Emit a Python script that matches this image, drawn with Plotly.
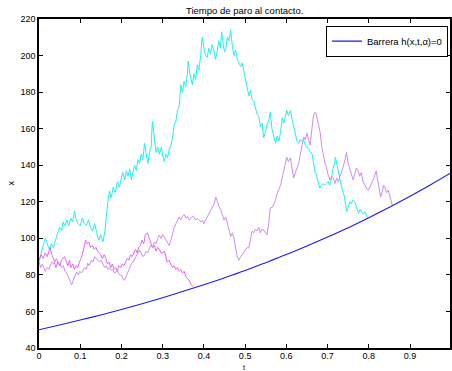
import plotly.graph_objects as go

# ---- data ----
t_cyan = [0.000,0.005,0.010,0.015,0.020,0.025,0.030,0.035,0.040,0.045,0.050,0.055,0.058,0.063,0.068,0.072,0.077,0.082,0.086,0.090,
          0.095,0.100,0.105,0.110,0.115,0.120,0.125,0.130,0.135,0.140,0.145,0.150,0.155,0.160,0.163,0.167,0.171,0.175,0.180,0.185,
          0.190,0.195,0.200,0.203,0.208,0.212,0.216,0.220,0.224,0.228,0.232,0.236,0.240,0.244,0.248,0.252,0.256,0.260,0.264,0.268,
          0.272,0.275,0.279,0.284,0.288,0.292,0.297,0.300,0.304,0.308,0.312,0.316,0.320,0.324,0.328,0.332,0.336,0.340,0.344,0.348,
          0.352,0.356,0.360,0.362,0.366,0.369,0.372,0.376,0.380,0.384,0.388,0.392,0.396,0.400,0.404,0.408,0.412,0.416,0.420,0.424,
          0.428,0.432,0.436,0.440,0.443,0.447,0.450,0.453,0.457,0.461,0.465,0.469,0.473,0.477,0.481,0.485,0.489,0.493,0.497,0.501,
          0.505,0.509,0.513,0.517,0.521,0.525,0.529,0.533,0.537,0.541,0.545,0.549,0.553,0.557,0.561,0.565,0.570,0.574,0.578,0.582,
          0.586,0.590,0.594,0.598,0.601,0.605,0.610,0.614,0.618,0.622,0.626,0.630,0.634,0.638,0.642,0.646,0.650,0.654,0.658,0.662,
          0.666,0.670,0.673,0.677,0.681,0.685,0.689,0.693,0.697,0.701,0.705,0.709,0.713,0.717,0.719,0.723,0.726,0.730,0.734,0.738,
          0.741,0.744,0.746,0.750,0.754,0.758,0.762,0.766,0.770,0.775,0.779,0.783,0.787,0.791,0.794,0.797]
x_cyan = [87,92,96,100,97,94,97,95,99,102,106,104,109,107,110,107,111,109,115,110,
          108,107,111,108,107,110,106,104,108,103,99,102,98,104,112,120,126,122,128,125,
          131,128,133,136,132,137,134,138,132,136,140,137,143,141,146,143,152,146,141,147,
          150,164,155,147,150,146,150,145,142,146,144,149,151,155,162,164,170,172,184,180,
          186,183,190,197,190,186,184,190,187,195,192,200,210,204,200,199,204,201,206,203,
          198,202,208,204,213,206,202,204,210,208,214,205,200,203,198,196,194,196,191,187,
          182,178,181,176,175,171,168,167,161,163,155,158,162,164,169,160,156,152,156,153,
          158,166,163,168,170,167,170,165,161,157,153,152,154,153,154,151,150,149,147,146.6,
          141,136,134.6,130,127.5,129,130,129,130,131,129,132,138,141,144.5,140,135.7,133,128,125,
          122.6,118,114.4,117,120,119,121,120,117,113.8,116,114,113.5,114.5,112.8,111]

t_mag_a = [0.000,0.005,0.010,0.015,0.020,0.025,0.027,0.031,0.035,0.041,0.045,0.050,0.055,0.062,0.066,0.070,0.074,0.077,0.082,0.086,
           0.090,0.094,0.098,0.102,0.106,0.110,0.113,0.117,0.121,0.125,0.130,0.134,0.138,0.142,0.146,0.150,0.154,0.158,0.162,0.166,
           0.170,0.174,0.178,0.182,0.186,0.190,0.194,0.198,0.202,0.206,0.210,0.214,0.218,0.222,0.226,0.230,0.234,0.238,0.242,0.246,
           0.250,0.254,0.258,0.263,0.267,0.271,0.275,0.280,0.284,0.288,0.292,0.296,0.300,0.304,0.308,0.311,0.315,0.320,0.324,0.328,
           0.332,0.336,0.340,0.344,0.348,0.352,0.356,0.360,0.364,0.368,0.372,0.374]
x_mag_a = [88,91,89,92,90,93,95,91,89,84,87,85,88,90,87,85,88,84,86,83,
           85,84,87,89,92,96,99,97,98,95,96,94,95,93,92,91,89,91,89,86,
           87,84,86,83,84,82,85,84,86,85,87,89,88,91,90,92,94,92,95,96,
           99,97,102,103,100,98,95,96,93,95,94,92,92,93,90,87,88,86,84,85,
           83,84,82,83,81,82,79,78,77,75,74,73.4]

t_mag_b = [0.000,0.004,0.008,0.012,0.015,0.020,0.024,0.027,0.031,0.036,0.042,0.046,0.050,0.055,0.059,0.063,0.067,0.071,0.075,0.079,
           0.083,0.087,0.091,0.095,0.099,0.103,0.107,0.111,0.115,0.118,0.122,0.127,0.131,0.135,0.139,0.143,0.147,0.151,0.155,0.159,
           0.163,0.167,0.171,0.175,0.179,0.183,0.187,0.191,0.195,0.200,0.204,0.207,0.211,0.215,0.220,0.224,0.228,0.232,0.236,0.240,
           0.244,0.248,0.252,0.256,0.260,0.264,0.268,0.272,0.276,0.280,0.284,0.288,0.292,0.296,0.300,0.304,0.308,0.312,0.316,0.320,
           0.324,0.328,0.332,0.336,0.340,0.344,0.348,0.352,0.356,0.360,0.364,0.368,0.372,0.376,0.380,0.384,0.389,0.393,0.397,0.400,
           0.404,0.409,0.413,0.417,0.421,0.425,0.429,0.432,0.436,0.441,0.445,0.449,0.453,0.457,0.461,0.465,0.469,0.473,0.477,0.481,
           0.485,0.489,0.493,0.497,0.501,0.505,0.509,0.513,0.517,0.521,0.525,0.529,0.533,0.537,0.541,0.545,0.549,0.553,0.557,0.561,
           0.566,0.570,0.574,0.578,0.582,0.586,0.589,0.593,0.597,0.601,0.605,0.610,0.614,0.618,0.622,0.626,0.630,0.634,0.638,0.642,
           0.646,0.650,0.654,0.658,0.662,0.666,0.670,0.673,0.677,0.682,0.686,0.690,0.694,0.697,0.701,0.706,0.710,0.714,0.718,0.722,
           0.726,0.730,0.734,0.738,0.742,0.746,0.750,0.755,0.758,0.762,0.766,0.770,0.774,0.778,0.782,0.786,0.791,0.795,0.799,0.803,
           0.807,0.811,0.815,0.818,0.822,0.826,0.829,0.833,0.836,0.839,0.843,0.847,0.851,0.855,0.857]
x_mag_b = [87,84,86,83,82,84,83,85,87,86,89,87,86,84,85,82,81,79,77,74.5,
           77,79,81.6,80,82,81,83,84,83,86.5,85,88,87,90,89,88,87,88,86,84,
           85,83,84,82.7,83,81,81.6,82,80,80,78,77,79,81,84,86,87,89,90,92,
           93.6,92,90,91,93,92,94.7,96,95,98,97,100,101.8,100,102,100.7,99,98,96,99,
           103,106,108,110,111.7,110,112,113,111,112,110,111,112,111.7,110,111,110,109,110,108,
           110,112,113.8,115,117,119,122.6,120,118,115.5,113,110,111.7,108,104.5,101,103,100,94.7,90,
           88,90,91,92.5,93.6,95,94.7,99,104,103,105,104,106,103,105,104.5,103,101.8,108,116.6,
           117,119,121,124.8,127,129,132,136,140,144.5,142,144,138,133,136,139,141,146,150,155.4,
           154,157.6,154,151,160,167.5,169,167.5,163,158,150,144.5,141,139,135,132,134,133,130,133,
           131,134,136,139,143,147,141,137,134,132,135,138.5,137,134,136,131,129,127,126.4,128,
           130,132,135,137,131,126,122.6,126,129,128,125,126.4,123,120,118]

t_barrier = [0.00,0.05,0.10,0.15,0.20,0.25,0.30,0.35,0.40,0.45,0.50,0.55,0.60,0.65,0.70,0.75,0.80,0.85,0.90,0.95,1.00]
x_barrier = [50.0,52.6,55.3,58.1,61.1,64.2,67.5,71.0,74.6,78.4,82.4,86.7,91.1,95.8,100.7,105.8,111.3,117.0,123.0,129.3,135.9]

x_ticks = [0, 0.1, 0.2, 0.3, 0.4, 0.5, 0.6, 0.7, 0.8, 0.9]
x_tick_labels = ["0", "0.1", "0.2", "0.3", "0.4", "0.5", "0.6", "0.7", "0.8", "0.9"]
y_ticks = [40, 60, 80, 100, 120, 140, 160, 180, 200, 220]

title_text = "Tiempo de paro al contacto."
legend_label = "Barrera h(x,t,α)=0"

FONT = "Liberation Sans, Arial, Helvetica, sans-serif"

fig = go.Figure()
fig.add_trace(go.Scatter(x=t_cyan, y=x_cyan, mode="lines", line=dict(color="#22f0f0", width=1), showlegend=False))
fig.add_trace(go.Scatter(x=t_mag_b, y=x_mag_b, mode="lines", line=dict(color="#cf8cf2", width=1), showlegend=False))
fig.add_trace(go.Scatter(x=t_mag_a, y=x_mag_a, mode="lines", line=dict(color="#e466f0", width=1), showlegend=False))
fig.add_trace(go.Scatter(x=t_barrier, y=x_barrier, mode="lines", line=dict(color="#1c1cf0", width=1.1, shape="spline"),
                         name=legend_label, showlegend=True))

fig.update_layout(
    width=452, height=371,
    margin=dict(l=39, r=0, t=19, b=23),
    paper_bgcolor="white", plot_bgcolor="white",
    font=dict(family=FONT, size=9, color="black"),
    showlegend=True,
    legend=dict(x=0.995, y=0.98, xanchor="right", yanchor="top",
                bgcolor="white", bordercolor="black", borderwidth=1,
                font=dict(size=9.5), itemwidth=30,
                tracegroupgap=0),
    annotations=[
        dict(text=title_text, xref="paper", yref="paper", x=0.5, y=1.0, yshift=9,
             showarrow=False, font=dict(size=9.5), xanchor="center", yanchor="middle"),
        dict(text="t", xref="paper", yref="paper", x=0.5, y=0, yshift=-13,
             showarrow=False, font=dict(size=7.5), xanchor="center", yanchor="top"),
        dict(text="x", xref="paper", yref="paper", x=0, xshift=-29, y=0.5, textangle=-90,
             showarrow=False, font=dict(size=9), xanchor="center", yanchor="middle"),
    ],
)
fig.update_xaxes(range=[0, 0.997], tickvals=x_ticks, ticktext=x_tick_labels,
                 ticks="inside", ticklen=4, tickwidth=1, tickcolor="black",
                 showline=True, linecolor="black", linewidth=1.5, mirror="ticks",
                 showgrid=False, zeroline=False, tickfont=dict(size=9), ticklabelstandoff=-2)
fig.update_yaxes(range=[40, 220], tickvals=y_ticks,
                 ticks="inside", ticklen=4, tickwidth=1, tickcolor="black",
                 showline=True, linecolor="black", linewidth=1.5, mirror="ticks",
                 showgrid=False, zeroline=False, tickfont=dict(size=9))

fig.write_html("out.html", config={"displayModeBar": False},
               post_script="document.body.style.margin='0px';document.body.style.padding='0px';")
